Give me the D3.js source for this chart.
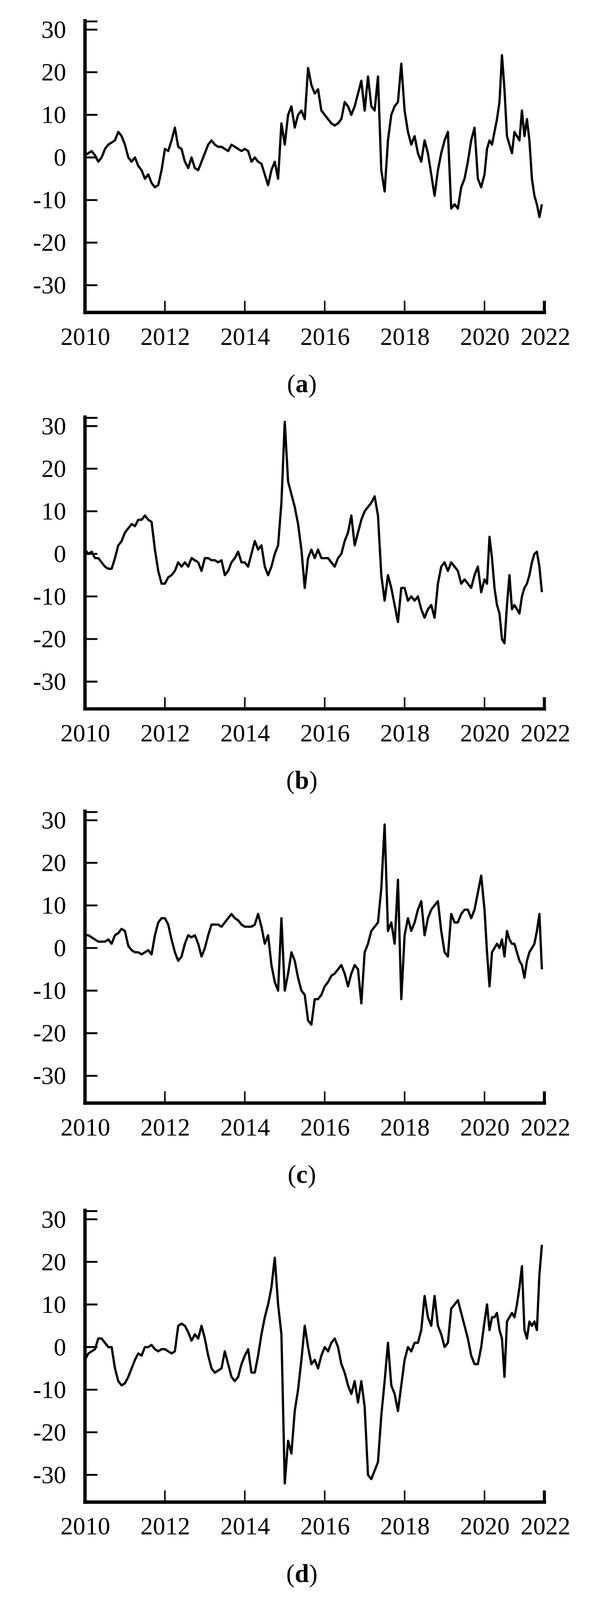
<!DOCTYPE html>
<html>
<head>
<meta charset="utf-8">
<script src="https://cdn.jsdelivr.net/npm/d3@7"></script>
<style>
  html, body { margin: 0; padding: 0; background: #fff; overflow: hidden; width: 100%; height: 100%; }
  svg { display: block; width: 100vw; height: 100vh; }
</style>
</head>
<body>
<svg id="chart"></svg>
<script>
// monthly values, Jan 2010 .. Dec 2021
const seriesA = [
  0.5, 1, 1.5, 0.5, -1, 0, 2, 3, 3.5, 4, 6, 5,
  3, 0, -1, 0, -2, -3, -5, -4, -6, -7, -6.5, -3,
  2, 1.5, 4, 7, 2.5, 2, -1, -2.5, 0, -2.5, -3, -1,
  1, 3, 4, 3, 2.5, 2.5, 2, 1.5, 3, 2.5, 2, 1.5,
  2, 1.5, -1, 0, -1, -1.5, -4, -6.5, -3, -1, -5, 8,
  3, 10, 12, 7, 10, 11, 9, 21, 17, 15, 16, 11,
  10, 9, 8, 7.5, 8, 9, 13, 12, 10, 12, 15, 18,
  11, 19, 12, 11, 19, -3, -8, 4, 10, 12, 13, 22,
  11, 6, 3, 5, 1, -1, 4, 1, -4, -9, -3, 1,
  4, 6, -12, -11, -12, -7, -5, -1, 4, 7, -5, -7,
  -4, 2, 4, 3, 6, 9, 13, 24, 16, 5, 3, 1,
  6, 5, 4, 11, 5, 9, 4, -5, -9, -11, -14, -11
];
const seriesB = [
  1, 0, 0.5, -1, -1, -2, -3, -3.5, -3.5, -1, 2, 3,
  5, 6, 7, 6.5, 8, 8, 9, 8, 7.5, 1, -4, -7,
  -7, -5.5, -5, -4, -2, -3, -2, -3, -1, -1.5, -2, -4,
  -1, -1, -1.5, -1.5, -2, -1.5, -5, -4, -2, -1, 0.5, -2,
  -2, -3, 0, 3, 1, 2, -3, -5, -3, 0, 2, 12,
  31, 17, 14, 11, 7, 1, -8, -1, 1, -1, 1, -1,
  -1, -1, -2, -3, -1, 0, 3, 5, 9, 2, 5, 8,
  10, 11, 12, 13.5, 9, -5, -11, -5, -8, -12, -16, -8,
  -8, -11, -10, -11, -10, -13, -15, -13, -12, -15, -7, -3,
  -2, -4, -2, -3, -4, -7, -6, -7, -8, -5, -3, -9,
  -6, -7, 4, -1, -8, -12, -14, -20, -21, -12, -5, -13,
  -12, -13, -14, -10, -8, -7, -5, -2, 0, 0.5, -3, -9
];
const seriesC = [
  3, 3, 2.5, 2, 1.5, 1.5, 1.5, 2, 1, 3, 3.5, 4.5,
  4, 0.5, -0.5, -1, -1, -1.5, -1, -0.5, -1.5, 3, 6, 7,
  7, 5.5, 2, -1, -3, -2, 1, 3, 2.5, 3, 1, -2,
  0, 3, 5.5, 5.5, 5.5, 5, 6, 7, 8, 7, 6.5, 5.5,
  5, 5, 5, 5.5, 8, 5, 1, 3, -4, -8, -10, 7,
  -10, -6, -1, -3, -7, -10, -11, -17, -18, -12, -12, -11,
  -9, -8, -6.5, -6, -5, -4, -6, -9, -6, -4, -5, -13,
  -1, 1, 4, 5, 6, 14, 29, 4, 6, 1, 16, -12,
  3, 7, 4, 6, 9, 11, 3, 7, 9, 10, 11, 4,
  -1, -2, 8, 6, 6, 8, 9, 9, 7, 9, 13, 17,
  9, -1, -9, -1, 0, 1, 0, 2, -2, 4, 2, 1,
  1, -1, -3, -4, -7, -3, -1, 0, 1, 4, 8, -5
];
const seriesD = [
  -3, -1.5, -1, -0.5, 2, 2, 1, 0, 0, -5, -8, -9,
  -8.5, -7, -5, -3, -1.5, -2, 0, 0, 0.5, -0.5, -1, -0.5,
  -0.5, -1, -1.5, -1, 5, 5.5, 5, 3.5, 1.5, 3, 2, 5,
  2, -2, -5, -6, -5.5, -5, -1, -4, -7, -8, -7, -4,
  -2, -0.5, -6, -6, -2, 3, 7, 10, 14, 21, 10, 3,
  -32, -22, -25, -15, -10, -3, 5, 0, -4, -3, -5, -2,
  0, -1, 1, 2, 0, -4, -6, -9, -11, -8, -13, -8,
  -14, -30, -31, -29, -27, -16, -8, 1, -9, -11, -15, -9,
  -3, 0, -1, 1, 1, 4, 12, 7, 5, 12, 5, 3,
  0, 1, 9, 10, 11, 8, 5, 2, -2, -4, -4, 0,
  6, 10, 4, 7, 7, 8, 4, 2, -7, 6, 7, 8,
  7, 10, 14, 19, 4, 2, 6, 5, 6, 4, 17, 24
];
const panelLetters = ["a", "b", "c", "d"];
const yTicks = [30, 20, 10, 0, -10, -20, -30];
const xTicks = [2012, 2014, 2016, 2018, 2020];
const xLabels = [2010, 2012, 2014, 2016, 2018, 2020, 2022];

const W = 1528, H = 4250;
const svg = d3.select("#chart")
  .attr("viewBox", `0 0 ${W} ${H}`)
  .attr("preserveAspectRatio", "xMidYMin meet");
const font = "'Liberation Serif', 'Times New Roman', serif";

const offsets = [0, 1053, 2100, 3160];
const allSeries = [seriesA, seriesB, seriesC, seriesD];

// uneven spacing in the original: last two years are squeezed
const x = d3.scaleLinear().domain([2010, 2020, 2022]).range([197, 1258, 1417]);
const y = d3.scaleLinear().domain([-36.4, 32.1]).range([830, 55]);

allSeries.forEach((vals, p) => {
  const g = svg.append("g").attr("transform", `translate(0,${offsets[p]})`);
  const data = vals.map((v, i) => ({ t: 2010 + i / 12, v }));

  g.append("path")
    .datum(data)
    .attr("fill", "none")
    .attr("stroke", "#000")
    .attr("stroke-width", 6)
    .attr("stroke-linejoin", "round")
    .attr("d", d3.line().x(d => x(d.t)).y(d => y(d.v)));

  // y axis
  g.append("line").attr("x1", x(2010)).attr("x2", x(2010))
    .attr("y1", y(32.1)).attr("y2", y(-36.4))
    .attr("stroke", "#000").attr("stroke-width", 9).attr("stroke-linecap", "square");
  g.append("line").attr("x1", x(2010)).attr("x2", x(2010) + 33)
    .attr("y1", y(32.1) + 2).attr("y2", y(32.1) + 2)
    .attr("stroke", "#000").attr("stroke-width", 5);
  g.selectAll(".yt").data(yTicks).enter().append("line")
    .attr("x1", x(2010)).attr("x2", x(2010) + 33)
    .attr("y1", d => y(d)).attr("y2", d => y(d))
    .attr("stroke", "#000").attr("stroke-width", 5);
  g.selectAll(".yl").data(yTicks).enter().append("text")
    .attr("x", 147).attr("y", d => y(d) + 22)
    .attr("text-anchor", "end")
    .attr("font-family", font).attr("font-size", 66)
    .text(d => d);

  // x axis
  g.append("line").attr("x1", x(2010)).attr("x2", x(2022))
    .attr("y1", y(-36.4)).attr("y2", y(-36.4))
    .attr("stroke", "#000").attr("stroke-width", 9).attr("stroke-linecap", "square");
  g.selectAll(".xt").data(xTicks).enter().append("line")
    .attr("x1", d => x(d)).attr("x2", d => x(d))
    .attr("y1", y(-36.4)).attr("y2", y(-36.4) - 31)
    .attr("stroke", "#000").attr("stroke-width", 4);
  g.append("line").attr("x1", x(2022)).attr("x2", x(2022))
    .attr("y1", y(-36.4)).attr("y2", y(-36.4) - 31)
    .attr("stroke", "#000").attr("stroke-width", 8);
  g.selectAll(".xl").data(xLabels).enter().append("text")
    .attr("x", d => x(d) + (d === 2022 ? 3 : 1))
    .attr("y", y(-36.4) + 86)
    .attr("text-anchor", "middle")
    .attr("font-family", font).attr("font-size", 66)
    .text(d => d);

  const cap = g.append("text")
    .attr("x", 773).attr("y", y(-36.4) + 212)
    .attr("text-anchor", "middle")
    .attr("font-family", font).attr("font-size", 68);
  cap.append("tspan").text("(");
  cap.append("tspan").attr("font-weight", "bold").text(panelLetters[p]);
  cap.append("tspan").text(")");
});
</script>
</body>
</html>
